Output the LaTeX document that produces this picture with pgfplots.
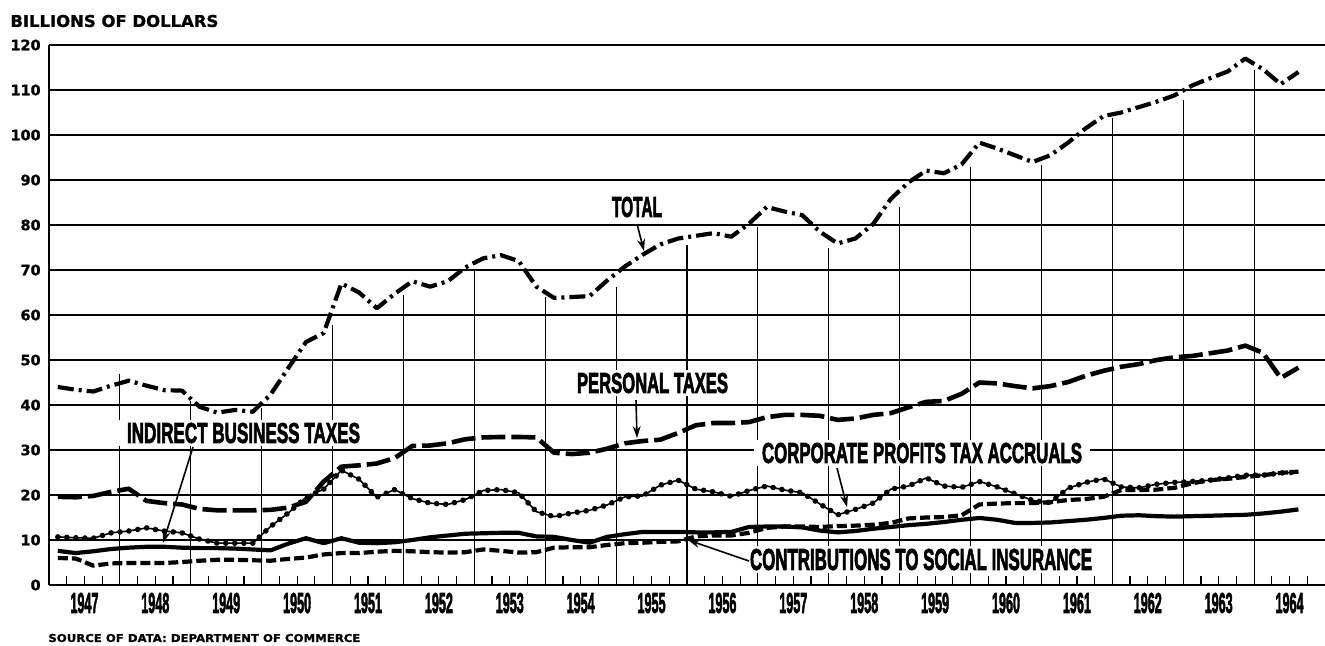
\documentclass[border=0pt]{standalone}
\usepackage{fontspec}
\usepackage{graphicx}
\usepackage{pgfplots}
\pgfplotsset{compat=1.18}
\usetikzlibrary{arrows.meta,decorations.markings}
\newfontfamily\dv{DejaVu Sans}[BoldFeatures={FakeBold=1.2}]
\newfontfamily\lib{Liberation Sans}[BoldFeatures={FakeBold=3}]
% condensed caps: width, cap height, text
\newcommand\cond[3]{\resizebox{#1}{#2}{\lib\bfseries #3}}
\newcommand\yr[1]{\cond{14pt}{10pt}{#1}}

% quarterly federal receipts, billions of dollars
\pgfplotstableread{
t tot pers corp ind si
1947.125 44.0 19.6 10.7 7.6 6.0
1947.375 43.4 19.5 10.5 7.1 5.9
1947.625 43.0 19.8 10.4 7.5 4.3
1947.875 44.3 20.7 11.6 8.0 4.8
1948.125 45.4 21.4 12.0 8.3 4.9
1948.375 44.3 18.7 12.7 8.5 4.9
1948.625 43.3 18.2 12.0 8.5 4.9
1948.875 43.2 17.9 11.6 8.3 5.1
1949.125 39.6 16.9 10.2 8.2 5.4
1949.375 38.3 16.6 9.3 8.2 5.6
1949.625 38.9 16.6 9.3 8.1 5.6
1949.875 38.5 16.6 9.3 7.9 5.5
1950.125 42.3 16.7 13.0 7.7 5.4
1950.375 48.2 17.2 16.0 9.2 5.8
1950.625 54.0 18.5 19.5 10.4 6.1
1950.875 56.0 23.0 21.3 9.3 6.8
1951.125 67.0 26.3 25.5 10.4 7.1
1951.375 65.0 26.6 23.5 9.4 7.1
1951.625 61.5 27.0 19.5 9.3 7.4
1951.875 64.7 28.2 21.2 9.5 7.6
1952.125 67.5 30.9 19.2 10.0 7.5
1952.375 66.3 31.0 18.2 10.6 7.3
1952.625 67.5 31.5 17.9 11.0 7.2
1952.875 70.6 32.4 19.0 11.4 7.3
1953.125 72.6 32.8 21.0 11.5 7.9
1953.375 73.3 32.9 21.2 11.6 7.6
1953.625 72.0 32.9 20.5 11.6 7.2
1953.875 66.3 32.8 16.3 10.8 7.3
1954.125 63.8 29.4 15.2 10.7 8.3
1954.375 64.0 29.1 16.0 10.0 8.4
1954.625 64.2 29.4 16.6 9.4 8.4
1954.875 67.7 30.3 17.8 10.7 8.9
1955.125 70.8 31.5 19.6 11.3 9.3
1955.375 73.4 32.0 19.8 11.8 9.4
1955.625 75.7 32.3 22.2 11.8 9.6
1955.875 77.0 33.8 23.3 11.8 9.7
1956.125 77.6 35.5 21.3 11.7 10.8
1956.375 78.2 36.0 20.7 11.7 11.0
1956.625 77.4 36.0 19.7 11.8 11.0
1956.875 80.3 36.2 21.0 12.9 11.6
1957.125 84.0 37.3 22.0 13.0 12.7
1957.375 83.0 37.8 21.1 13.0 13.0
1957.625 82.2 37.8 20.5 12.8 13.0
1957.875 78.5 37.6 18.0 12.1 12.9
1958.125 75.9 36.7 15.6 11.7 13.1
1958.375 77.0 37.0 16.8 12.0 13.2
1958.625 80.2 37.8 18.2 12.5 13.4
1958.875 85.8 38.2 21.3 12.9 13.8
1959.125 89.5 39.5 22.0 13.3 14.8
1959.375 92.1 40.7 23.8 13.6 15.0
1959.625 91.5 40.9 22.0 14.0 15.1
1959.875 93.5 42.5 21.7 14.5 15.5
1960.125 98.3 45.0 23.0 14.9 17.9
1960.375 97.0 44.8 21.8 14.5 18.1
1960.625 95.5 44.2 20.3 13.8 18.2
1960.875 94.0 43.7 18.8 13.8 18.2
1961.125 95.5 44.2 18.3 13.9 18.4
1961.375 98.3 45.1 21.5 14.2 18.9
1961.625 101.5 46.5 22.8 14.5 19.1
1961.875 104.2 47.6 23.6 14.9 19.6
1962.125 105.0 48.5 21.8 15.4 21.1
1962.375 106.2 49.1 21.6 15.5 21.1
1962.625 107.4 50.0 22.4 15.3 21.2
1962.875 108.8 50.6 22.8 15.2 21.6
1963.125 111.0 50.9 23.0 15.3 22.6
1963.375 112.6 51.5 23.3 15.4 23.3
1963.625 114.1 52.1 23.8 15.5 23.6
1963.875 117.0 53.2 24.4 15.6 24.0
1964.125 114.6 51.6 24.4 15.9 24.4
1964.375 111.3 46.0 24.9 16.3 24.9
1964.625 114.0 48.3 25.1 16.8 25.2
}\receipts

\begin{document}
\begin{tikzpicture}
\begin{axis}[
  at={(24.5pt,-292.5pt)}, anchor=south west,
  scale only axis, width=638pt, height=270pt,
  xmin=1947, xmax=1965, ymin=0, ymax=120,
  axis x line=bottom, axis y line=left,
  axis line style={-, line width=1.4pt},
  ytick={0,10,20,30,40,50,60,70,80,90,100,110,120},
  yticklabels={0,10,20,30,40,50,60,70,80,90,100,110,120},
  ymajorgrids, grid style={black, line width=0.6pt},
  xtick={1947.5,1948.5,...,1964.5},
  xticklabels={\yr{1947},\yr{1948},\yr{1949},\yr{1950},\yr{1951},\yr{1952},
    \yr{1953},\yr{1954},\yr{1955},\yr{1956},\yr{1957},\yr{1958},\yr{1959},
    \yr{1960},\yr{1961},\yr{1962},\yr{1963},\yr{1964}},
  minor xtick={1947.25,1947.5,...,1964.75},
  tick align=inside, major tick length=4.5pt, minor tick length=4.5pt,
  tick style={black, line width=0.6pt},
  xticklabel style={anchor=center, inner sep=0pt, yshift=-9pt},
  yticklabel style={anchor=east, inner sep=0pt, xshift=-4pt,
    font=\dv\bfseries\fontsize{7.2}{7.5}\selectfont},
  every axis plot/.append style={line join=round},
]
  % year dividers, rising to the total curve
  \addplot[ycomb, black, line width=0.6pt, no marks] coordinates {
    (1948,47) (1949,41) (1950,39.4) (1951,57.8) (1952,64.4) (1953,70)
    (1954,64) (1955,66.2) (1956,75.6) (1957,79.6) (1958,75) (1959,84)
    (1960,93) (1961,93.3) (1962,103.8) (1963,107.8) (1964,114.4)};
  % total
  \addplot[black, line width=2.1pt, dash pattern=on 8pt off 2.5pt on 1.5pt off 2.5pt]
    table[x=t, y=tot]{\receipts};
  % personal taxes
  \addplot[black, line width=2.3pt, dash pattern=on 12pt off 3pt]
    table[x=t, y=pers]{\receipts};
  % corporate profits tax accruals (beaded line)
  \addplot[black, line width=0.8pt, postaction={decorate},
    decoration={markings, mark=between positions 0 and 1 step 4.5pt
      with {\pgfpathcircle{\pgfpointorigin}{1.4pt}\pgfusepath{fill}}}]
    table[x=t, y=corp]{\receipts};
  % indirect business taxes
  \addplot[black, line width=2.1pt] table[x=t, y=ind]{\receipts};
  % contributions to social insurance
  \addplot[black, line width=2.1pt, dash pattern=on 5pt off 2pt]
    table[x=t, y=si]{\receipts};
\end{axis}

\begin{scope}[x=0.5pt, y=-0.5pt, lab/.style={fill=white, inner ysep=1.5pt, inner xsep=4pt},
  arr/.style={-{Stealth[length=6pt,width=4pt]}, line width=0.8pt}]
  \node[lab] at (637,207) {\cond{25pt}{10pt}{TOTAL}};
  \node[lab] at (652.5,383) {\cond{75.5pt}{10pt}{PERSONAL TAXES}};
  \node[lab] at (243.5,433) {\cond{116.5pt}{10pt}{INDIRECT BUSINESS TAXES}};
  \node[lab] at (922,453) {\cond{160pt}{10pt}{CORPORATE PROFITS TAX ACCRUALS}};
  \node[lab] at (921,559.5) {\cond{171pt}{10.5pt}{CONTRIBUTIONS TO SOCIAL INSURANCE}};
  \draw[arr] (637,224) -- (644,251);
  \draw[arr] (636,400) -- (637,438);
  \draw[arr] (193,447) -- (163,543);
  \draw[arr] (837,468) -- (847,507);
  \draw[arr] (749,561) -- (688,540);
  \node[anchor=west, inner sep=0pt] at (10,21)
    {\resizebox{104pt}{6pt}{\dv\bfseries BILLIONS OF DOLLARS}};
  \node[anchor=west, inner sep=0pt] at (48,638)
    {\resizebox{156pt}{4pt}{\dv\bfseries SOURCE OF DATA: DEPARTMENT OF COMMERCE}};
  \pgfresetboundingbox
  \path (0,0) rectangle (1325,645);
\end{scope}
\end{tikzpicture}
\end{document}
